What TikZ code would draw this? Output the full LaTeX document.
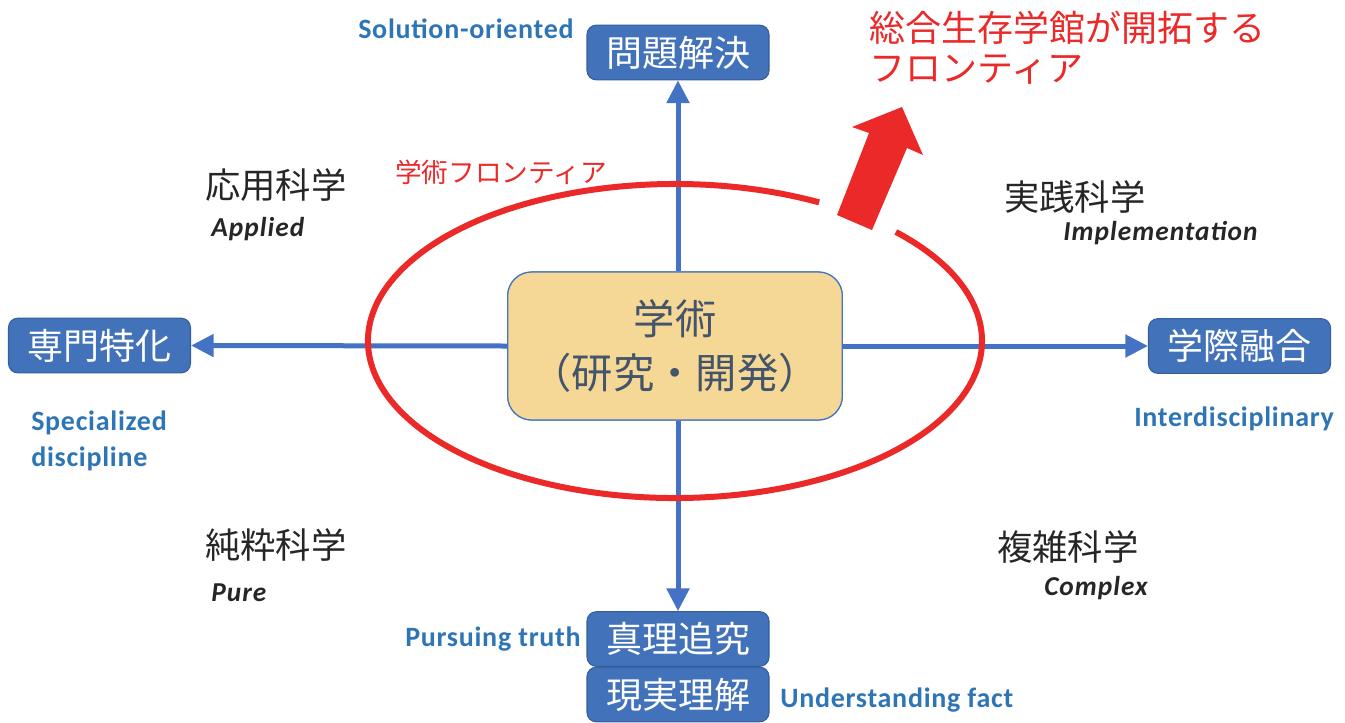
\documentclass[tikz,border=0pt]{standalone}
\usepackage{fontspec}
\setmainfont{Carlito}
\newfontfamily\jp{Noto Sans CJK JP}
\usetikzlibrary{arrows.meta}
\definecolor{boxblue}{RGB}{66,114,186}
\definecolor{boxline}{RGB}{52,94,156}
\definecolor{lineblue}{RGB}{68,114,196}
\definecolor{txtblue}{RGB}{46,117,182}
\definecolor{frred}{RGB}{236,41,41}
\definecolor{cfill}{RGB}{245,215,150}
\definecolor{ctext}{RGB}{68,84,106}
\begin{document}
\begin{tikzpicture}[x=0.75pt,y=0.75pt,
 endbox/.style={draw=boxline, line width=0.8pt, fill=boxblue, rounded corners=7pt, minimum width=136.5pt, minimum height=41pt, inner sep=0pt, text=white, font=\jp\fontsize{27pt}{30pt}\selectfont},
 centerbox/.style={draw=lineblue, line width=0.9pt, fill=cfill, rounded corners=18pt, minimum width=251pt, minimum height=111pt, inner sep=0pt, align=center, text=ctext, font=\jp\fontsize{31pt}{41pt}\selectfont},
 arr/.style={draw=lineblue, line width=3.75pt, -{Triangle[width=16.5pt,length=17pt]}},
 sci/.style={anchor=west, inner sep=0pt, font=\jp\fontsize{26.5pt}{30pt}\selectfont, text=black!85},
 eng/.style={anchor=west, inner sep=0pt, align=left, font=\bfseries\fontsize{21pt}{26.5pt}\selectfont\addfontfeature{LetterSpace=2.6}, text=txtblue},
 ital/.style={anchor=west, inner sep=0pt, font=\bfseries\itshape\fontsize{20.5pt}{26pt}\selectfont\addfontfeature{LetterSpace=3.8}, text=black!85},
 redtxt/.style={anchor=west, inner sep=0pt, align=left, text=frred},
 ]
\useasboundingbox (0,0) rectangle (1345,-722);

% nodes
\node[centerbox] (c) at (675,-346) {学術\\（研究・開発）};
\node[endbox] (t) at (678,-52.5) {問題解決};
\node[endbox] (l) at (99.5,-345.5) {専門特化};
\node[endbox] (r) at (1239.5,-346) {学際融合};
\node[endbox] (b1) at (678,-639) {真理追究};
\node[endbox] (b2) at (678,-694.5) {現実理解};

% connectors
\draw[arr] (c.north -| t.south) -- (t.south);
\draw[arr] (c.south -| b1.north) -- (b1.north);
\draw[arr] (c.west) -- (l.east);
\draw[arr] (c.east) -- (r.west);
% redraw center box on top of lines
\node[centerbox] at (c) {学術\\（研究・開発）};

% frontier ellipse with gap
\draw[frred, line width=4.5pt] (675,-341) ++(62:307 and 157) arc[start angle=62, end angle=404, x radius=307, y radius=157];

% red block arrow
\fill[frred] (837,-215) -- (869,-133) -- (852,-127) -- (902,-107) -- (923,-155) -- (907,-148) -- (872,-230) -- cycle;

% labels
\node[eng] (so) at (358,-29) {Solution-oriented};
\node[sci] (app) at (205,-185) {応用科学};
\node[ital] (appe) at (211,-229) {Applied};
\node[redtxt, font=\jp\fontsize{20pt}{24pt}\selectfont] (gf) at (395,-172) {学術フロンティア};
\node[sci] (imp) at (1004,-197) {実践科学};
\node[ital] (impe) at (1063,-233) {Implementation};
\node[redtxt, font=\jp\fontsize{27pt}{30pt}\selectfont] (title) at (869,-48) {総合生存学館が開拓する\\フロンティア};
\node[eng] (spec) at (31,-441) {Specialized\\discipline};
\node[eng] (inter) at (1134,-419) {Interdisciplinary};
\node[sci] (pure) at (205,-545) {純粋科学};
\node[ital] (puree) at (211,-593) {Pure};
\node[sci] (comp) at (997,-547) {複雑科学};
\node[ital] (compe) at (1044,-588) {Complex};
\node[eng] (pt) at (405,-639) {Pursuing truth};
\node[eng] (uf) at (780,-700) {Understanding fact};
\end{tikzpicture}
\end{document}
